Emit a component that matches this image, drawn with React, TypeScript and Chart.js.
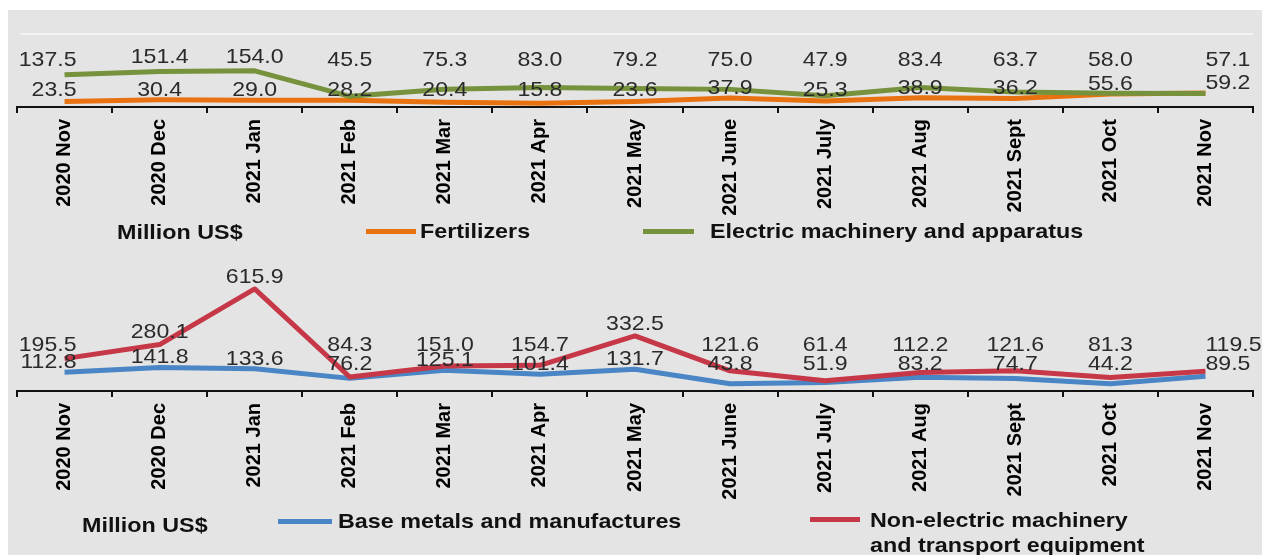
import React, { useEffect, useRef } from "react";
import { Chart, registerables } from "chart.js";

Chart.register(...registerables);

const FONT = '"Liberation Sans", Arial, Helvetica, sans-serif';

const months = [
  "2020 Nov", "2020 Dec", "2021 Jan", "2021 Feb", "2021 Mar", "2021 Apr", "2021 May",
  "2021 June", "2021 July", "2021 Aug", "2021 Sept", "2021 Oct", "2021 Nov",
];

const fertilizers = [23.5, 30.4, 29.0, 28.2, 20.4, 15.8, 23.6, 37.9, 25.3, 38.9, 36.2, 55.6, 59.2];
const electricMachinery = [137.5, 151.4, 154.0, 45.5, 75.3, 83.0, 79.2, 75.0, 47.9, 83.4, 63.7, 58.0, 57.1];
const baseMetals = [112.8, 141.8, 133.6, 76.2, 125.1, 101.4, 131.7, 43.8, 51.9, 83.2, 74.7, 44.2, 89.5];
const nonElectricMachinery = [195.5, 280.1, 615.9, 84.3, 151.0, 154.7, 332.5, 121.6, 61.4, 112.2, 121.6, 81.3, 119.5];

const ORANGE = "#E8720F";
const GREEN = "#76923C";
const BLUE = "#4A86C5";
const RED = "#C63847";

const pairLabels = {
  id: "pairLabels",
  afterDatasetsDraw(chart: any, _args: any, opts: any) {
    const { ctx, chartArea } = chart;
    const axisY = chartArea.bottom;
    const n = chart.data.labels.length;
    ctx.save();
    ctx.font = `21px ${FONT}`;
    ctx.fillStyle = "#2a2a2a";
    ctx.textBaseline = "middle";
    [0, 1].forEach((k) => {
      const meta = chart.getDatasetMeta(k);
      const vals = chart.data.datasets[k].data;
      meta.data.forEach((pt: any, i: number) => {
        const y =
          k === 0
            ? Math.min(axisY - opts.upperRow, pt.y - opts.gap)
            : Math.min(axisY - opts.lowerRow, pt.y - 10);
        let align: CanvasTextAlign = "center";
        let x = pt.x;
        if (i === 0) {
          align = "right";
          x = pt.x + 12;
        } else if (i === n - 1) {
          align = "left";
          x = pt.x;
        }
        ctx.save();
        ctx.translate(x, y);
        ctx.scale(1.1, 1);
        ctx.textAlign = align;
        ctx.fillText(Number(vals[i]).toFixed(1), 0, 0);
        ctx.restore();
      });
    });
    ctx.restore();
  },
};

type Series = { label: string; data: number[]; color: string };

function Panel(props: {
  top: number;
  height: number;
  padTop: number;
  padBottom: number;
  yMax: number;
  series: Series[];
  labelOpts: { upperRow: number; lowerRow: number; gap: number };
}) {
  const ref = useRef<HTMLCanvasElement>(null);
  useEffect(() => {
    const chart = new Chart(ref.current as HTMLCanvasElement, {
      type: "line",
      data: {
        labels: months,
        datasets: props.series.map((s) => ({
          label: s.label,
          data: s.data,
          borderColor: s.color,
          backgroundColor: s.color,
          borderWidth: 5,
          pointRadius: 0,
          tension: 0,
          fill: false,
          borderJoinStyle: "round" as const,
        })),
      },
      options: {
        animation: false,
        responsive: false,
        maintainAspectRatio: false,
        layout: { padding: { left: 17, right: 15, top: props.padTop, bottom: props.padBottom } },
        plugins: {
          legend: { display: false },
          tooltip: { enabled: false },
          pairLabels: props.labelOpts,
        } as any,
        scales: {
          x: {
            offset: true,
            grid: {
              display: true,
              drawOnChartArea: false,
              drawTicks: true,
              tickLength: 6,
              color: "#111",
              lineWidth: 2,
              offset: true,
            },
            border: { display: true, color: "#111", width: 2 },
            ticks: {
              autoSkip: false,
              maxRotation: 90,
              minRotation: 90,
              padding: 6,
              color: "#000",
              font: { family: FONT, size: 20, weight: "bold" },
            },
            afterFit: (scale: any) => {
              scale.height = 120;
            },
          },
          y: { display: false, min: 0, max: props.yMax },
        },
      },
      plugins: [pairLabels as any],
    });
    return () => chart.destroy();
  }, []);
  return (
    <canvas
      ref={ref}
      width={1268}
      height={props.height}
      style={{ position: "absolute", left: 0, top: props.top, width: 1268, height: props.height, display: "block" }}
    />
  );
}

const legendText: React.CSSProperties = {
  position: "absolute",
  fontFamily: FONT,
  fontWeight: "bold",
  fontSize: 21,
  lineHeight: "25px",
  color: "#111",
  whiteSpace: "nowrap",
  transform: "scaleX(1.11)",
  transformOrigin: "left center",
};

function Swatch({ left, top, width, color }: { left: number; top: number; width: number; color: string }) {
  return <div style={{ position: "absolute", left, top, width, height: 5, background: color }} />;
}

export default function App() {
  return (
    <div
      style={{
        position: "absolute",
        left: 0,
        top: 0,
        width: 1268,
        height: 555,
        background: "#ffffff",
        overflow: "hidden",
      }}
    >
      <div style={{ position: "absolute", left: 8, top: 10, width: 1254, height: 545, background: "#e4e4e4" }} />
      <div style={{ position: "absolute", left: 20, top: 33, width: 1233, height: 2, background: "#f2f2f2" }} />

      <Panel
        top={0}
        height={230}
        padTop={60}
        padBottom={3}
        yMax={200}
        series={[
          { label: "Electric machinery and apparatus", data: electricMachinery, color: GREEN },
          { label: "Fertilizers", data: fertilizers, color: ORANGE },
        ]}
        labelOpts={{ upperRow: 47, lowerRow: 17, gap: 14 }}
      />
      <Panel
        top={250}
        height={280}
        padTop={25}
        padBottom={19}
        yMax={700}
        series={[
          { label: "Non-electric machinery and transport equipment", data: nonElectricMachinery, color: RED },
          { label: "Base metals and manufactures", data: baseMetals, color: BLUE },
        ]}
        labelOpts={{ upperRow: 46, lowerRow: 27, gap: 12 }}
      />

      {/* top legend */}
      <div style={{ ...legendText, left: 117, top: 219 }}>Million US$</div>
      <Swatch left={366} top={229} width={50} color={ORANGE} />
      <div style={{ ...legendText, left: 420, top: 218 }}>Fertilizers</div>
      <Swatch left={643} top={229} width={51} color={GREEN} />
      <div style={{ ...legendText, left: 710, top: 218 }}>Electric machinery and apparatus</div>

      {/* bottom legend */}
      <div style={{ ...legendText, left: 82, top: 512 }}>Million US$</div>
      <Swatch left={278} top={519} width={54} color={BLUE} />
      <div style={{ ...legendText, left: 338, top: 508 }}>Base metals and manufactures</div>
      <Swatch left={810} top={517} width={50} color={RED} />
      <div style={{ ...legendText, left: 870, top: 507 }}>
        Non-electric machinery
        <br />
        and transport equipment
      </div>
    </div>
  );
}
